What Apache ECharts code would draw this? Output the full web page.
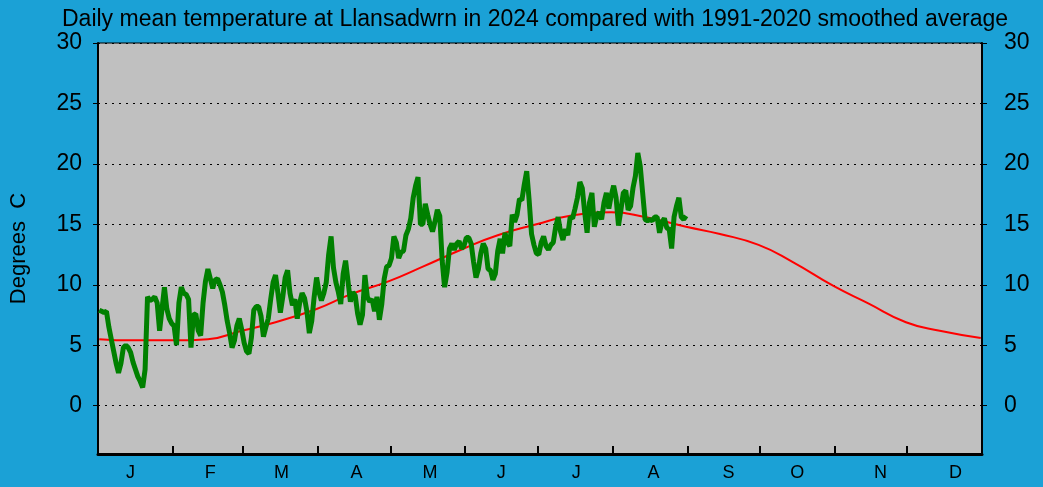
<!DOCTYPE html>
<html>
<head>
<meta charset="utf-8">
<script src="https://cdn.jsdelivr.net/npm/echarts@6/dist/echarts.min.js"></script>
<style>
  html, body { margin: 0; padding: 0; background: #1ba1d6; }
  #chart { width: 1043px; height: 487px; }
</style>
</head>
<body>
<div id="chart"></div>
<script>
// daily mean 2024, day 1 = 1 Jan
var daily2024 = [
  7.9, 7.8, 7.7, 7.8, 6.5, 5.5, 4.5, 3.5, 2.7, 3.5,
  4.8, 5.0, 4.8, 4.4, 3.6, 3.0, 2.4, 2.0, 1.5, 3.0,
  9.0, 8.7, 8.8, 9.0, 8.5, 6.2, 8.0, 9.8, 8.0, 7.2,
  6.8, 6.6, 5.0, 8.5, 9.8, 9.3, 9.2, 8.8, 4.8, 7.5,
  7.6, 6.2, 5.8, 8.5, 10.3, 11.3, 10.5, 9.7, 10.4, 10.5,
  10.0, 9.4, 8.3, 7.0, 6.0, 4.8, 5.4, 6.6, 7.2, 6.3,
  5.2, 4.5, 4.3, 5.6, 7.9, 8.2, 8.2, 7.4, 5.7, 6.5,
  7.2, 8.8, 10.2, 10.8, 9.3, 7.7, 9.0, 10.6, 11.2, 9.3,
  8.3, 8.8, 7.2, 8.5, 9.3, 8.9, 7.8, 6.0, 7.0, 9.0,
  10.6, 9.4, 8.7, 9.3, 10.2, 12.5, 14.0, 11.4, 10.2, 9.4,
  8.4, 10.9, 12.0, 10.3, 8.6, 9.4, 9.1, 7.6, 6.7, 7.5,
  10.8, 9.0, 8.6, 8.8, 7.8, 9.0, 7.1, 8.4, 10.5, 11.5,
  11.6, 12.2, 14.0, 13.5, 12.2, 12.7, 12.8, 14.1, 14.6, 15.5,
  17.2, 18.2, 18.9, 15.0, 15.0, 16.7, 15.8, 15.0, 14.4, 15.2,
  16.2, 15.7, 12.0, 9.8, 11.0, 13.0, 13.4, 12.9, 13.4, 13.6,
  13.0, 13.2, 13.9, 13.9, 13.4, 11.9, 10.6, 11.3, 12.6, 13.4,
  13.0, 11.3, 11.2, 10.4, 10.9, 12.8, 13.8, 12.6, 14.3, 13.5,
  13.2, 15.8, 15.2, 15.8, 17.1, 17.0, 18.3, 19.4, 17.0, 14.2,
  13.3, 12.6, 12.5, 13.5, 14.0, 13.2, 12.9, 13.3, 13.5, 14.8,
  15.6, 14.4, 13.7, 14.6, 14.1, 15.6, 15.5, 16.3, 17.2, 18.5,
  18.0, 16.0, 14.3, 16.8, 17.6, 14.8, 15.7, 16.0, 15.4, 16.8,
  17.6, 16.3, 17.4, 18.2, 17.2, 14.9, 16.2, 17.6, 17.8, 16.2,
  16.5, 18.0, 19.0, 20.9, 19.8, 17.6, 15.4, 15.3, 15.4, 15.3,
  15.6, 15.6, 14.3, 15.2, 15.5, 14.7, 14.6, 13.0, 15.6, 16.5,
  17.2, 15.6, 15.4, 15.7
];

// 1991-2020 smoothed average, read at these days of year
var avgDays = [1, 15, 32, 46, 60, 74, 91, 105, 121, 135, 152, 166, 182, 196, 213, 227, 244, 258, 274, 288, 305, 319, 335, 349, 366];
var avgTemp = [5.5, 5.4, 5.4, 5.5, 6.2, 6.9, 8.0, 9.2, 10.3, 11.5, 13.0, 14.1, 15.0, 15.7, 16.0, 15.6, 14.8, 14.2, 13.3, 11.9, 9.9, 8.5, 6.9, 6.2, 5.6];

var monthStarts = [31, 60, 91, 121, 152, 182, 213, 244, 274, 305, 335];
var monthLabelDays = [13.5, 46.5, 76, 107, 137.5, 167, 198, 230, 261, 289.5, 324, 355];
var monthLetters = ['J', 'F', 'M', 'A', 'M', 'J', 'J', 'A', 'S', 'O', 'N', 'D'];
var yTicks = [0, 5, 10, 15, 20, 25, 30];

var chart = echarts.init(document.getElementById('chart'));

var dailyData = daily2024.map(function (v, i) { return [i + 0.5, v]; });
var avgData = avgDays.map(function (d, i) { return [d - 0.5, avgTemp[i]]; });

function yAxisOpt(pos, margin) {
  return {
    type: 'value',
    position: pos,
    min: -4,
    max: 30,
    axisLine: { show: true, onZero: false, lineStyle: { color: '#000', width: 2 } },
    axisTick: { show: true, length: 5, customValues: yTicks, lineStyle: { color: '#000' } },
    axisLabel: {
      customValues: yTicks, margin: margin, color: '#000',
      fontSize: 23, fontFamily: 'Liberation Sans, Arial, sans-serif'
    },
    splitLine: {
      show: pos === 'left',
      lineStyle: { color: '#000', width: 1, type: [2, 5] }
    }
  };
}

var left = yAxisOpt('left', 16);
left.name = 'Degrees  C';
left.nameLocation = 'middle';
left.nameRotate = 90;
left.nameGap = 68;
left.nameTextStyle = { color: '#000', fontSize: 22, fontFamily: 'Liberation Sans, Arial, sans-serif' };

option = {
  backgroundColor: '#1ba1d6',
  animation: false,
  title: {
    text: 'Daily mean temperature at Llansadwrn in 2024 compared with 1991-2020 smoothed average',
    left: 57,
    top: 3,
    textStyle: {
      color: '#000', fontWeight: 'normal', fontSize: 23,
      fontFamily: 'Liberation Sans Narrow, Arial Narrow, sans-serif'
    }
  },
  grid: {
    left: 97, right: 61, top: 43, bottom: 33,
    show: true, backgroundColor: '#c0c0c0', borderColor: '#000', borderWidth: 1
  },
  xAxis: {
    type: 'value',
    min: 0,
    max: 366,
    axisLine: { show: true, onZero: false, lineStyle: { color: '#000', width: 3 } },
    axisTick: { show: true, inside: true, length: 8, customValues: monthStarts, lineStyle: { color: '#000', width: 2 } },
    axisLabel: {
      customValues: monthLabelDays, margin: 10, color: '#000', fontSize: 18,
      fontFamily: 'Liberation Sans Narrow, Arial Narrow, sans-serif',
      formatter: function (v) { return monthLetters[monthLabelDays.indexOf(v)] || ''; }
    },
    splitLine: { show: false }
  },
  yAxis: [left, yAxisOpt('right', 22)],
  series: [
    {
      name: 'Average',
      type: 'line',
      data: avgData,
      smooth: true,
      showSymbol: false,
      lineStyle: { color: '#ff0000', width: 2 },
      z: 2
    },
    {
      name: '2024',
      type: 'line',
      data: dailyData,
      showSymbol: false,
      lineStyle: { color: '#008000', width: 5 },
      z: 3
    }
  ]
};
chart.setOption(option);
</script>
</body>
</html>
